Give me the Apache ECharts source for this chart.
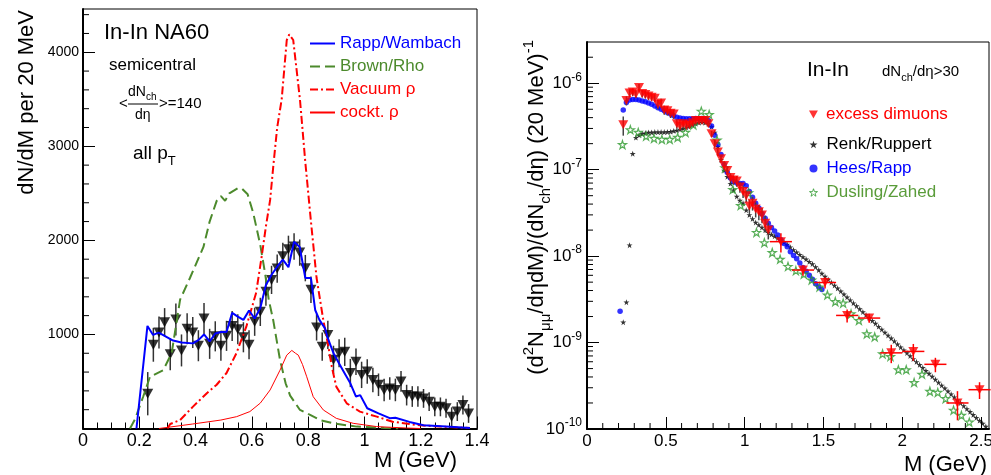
<!DOCTYPE html>
<html>
<head>
<meta charset="utf-8">
<script src="https://cdn.jsdelivr.net/npm/echarts@6/dist/echarts.min.js"></script>
<style>
html, body { margin: 0; padding: 0; background: #fff; }
#chart { width: 991px; height: 475px; }
</style>
</head>
<body>
<div id="chart"></div>
<script>
// ---------- left panel: In-In NA60, dN/dM per 20 MeV ----------
var na60Mass = [0.23,0.25,0.27,0.29,0.31,0.33,0.35,0.37,0.39,0.41,0.43,0.45,0.47,0.49,0.51,0.53,0.55,0.57,0.59,
  0.61,0.63,0.65,0.67,0.69,0.71,0.73,0.75,0.77,0.79,0.81,0.83,0.85,0.87,0.89,0.91,0.93,0.95,0.97,0.99,
  1.01,1.03,1.05,1.07,1.09,1.11,1.13,1.15,1.17,1.19,1.21,1.23,1.25,1.27,1.29,1.31,1.33,1.35,1.37];
var na60Yield = [370,890,1020,1130,790,1160,830,1060,1020,880,1170,900,980,880,985,1090,1055,970,890,
  1135,1240,1455,1580,1700,1830,1905,1935,1870,1705,1475,1075,870,995,730,800,815,590,710,570,
  605,515,465,410,425,410,500,355,340,340,320,285,230,230,215,125,180,250,160];
var na60Err = [230,180,170,150,170,170,170,165,165,165,165,160,160,160,160,160,160,160,155,
  150,150,150,150,150,145,145,140,140,140,140,140,150,150,150,150,150,150,140,140,
  130,130,120,120,120,120,110,110,110,110,100,100,100,100,100,100,100,100,100];

var rappWambach = [[0.19,0],[0.229,1090],[0.249,995],[0.269,1020],[0.29,985],[0.32,935],[0.35,915],[0.39,905],
  [0.41,940],[0.43,1000],[0.45,925],[0.47,1010],[0.49,1025],[0.51,1025],[0.53,1230],[0.55,1190],[0.57,1155],
  [0.59,1255],[0.61,1170],[0.63,1280],[0.65,1525],[0.67,1635],[0.69,1720],[0.71,1795],[0.73,1715],[0.75,1985],
  [0.77,1930],[0.79,1600],[0.81,1600],[0.825,1260],[0.84,1155],[0.86,1065],[0.87,960],[0.89,800],[0.91,690],
  [0.93,585],[0.95,480],[0.97,340],[0.985,355],[1.01,215],[1.05,160],[1.09,110],[1.11,115],[1.16,70],
  [1.21,35],[1.29,20],[1.375,5]];
var brownRho = [[0.167,0],[0.185,100],[0.214,340],[0.238,550],[0.285,620],[0.315,800],[0.345,1370],[0.38,1600],
  [0.428,1930],[0.45,2200],[0.475,2420],[0.49,2470],[0.505,2420],[0.52,2500],[0.55,2555],[0.565,2550],
  [0.585,2490],[0.605,2290],[0.63,1950],[0.647,1650],[0.66,1370],[0.676,1150],[0.70,730],[0.72,480],
  [0.736,350],[0.771,197],[0.807,144],[0.842,90],[0.889,55],[0.972,20],[1.07,5],[1.12,0]];
var vacuumRho = [[0.30,0],[0.31,48],[0.345,90],[0.39,230],[0.44,375],[0.475,465],[0.51,590],[0.545,800],
  [0.58,1080],[0.615,1440],[0.635,1830],[0.65,2150],[0.665,2430],[0.676,2785],[0.69,3200],[0.706,3500],
  [0.724,4130],[0.733,4190],[0.747,4130],[0.771,3495],[0.79,2830],[0.81,2200],[0.83,1600],[0.854,1150],
  [0.872,870],[0.884,657],[0.90,445],[0.937,268],[0.984,179],[1.044,126],[1.10,72],[1.185,37],[1.27,20],[1.375,5]];
var cocktailRho = [[0.27,0],[0.39,48],[0.49,90],[0.546,126],[0.593,180],[0.63,270],[0.665,410],[0.70,620],
  [0.724,780],[0.742,830],[0.755,800],[0.765,780],[0.78,680],[0.795,550],[0.818,338],[0.854,197],[0.90,108],
  [0.96,55],[1.044,20],[1.15,5],[1.2,0]];

var leftYMinorTicks = [200,400,600,800,1200,1400,1600,1800,2200,2400,2600,2800,3200,3400,3600,3800,4200,4400];

// ---------- right panel: In-In dNch/deta>30, normalized ----------
var excessMass = [0.23,0.25,0.27,0.29,0.31,0.33,0.35,0.37,0.39,0.41,0.43,0.45,0.47,0.49,0.51,0.53,0.55,0.57,
  0.59,0.61,0.63,0.65,0.67,0.69,0.71,0.73,0.75,0.77,0.79,0.81,0.83,0.85,0.87,0.89,0.91,0.93,0.95,0.97,0.99,
  1.01,1.03,1.05,1.07,1.09,1.11,1.13,1.15];
var excessVal = [3.3e-7,6.3e-7,7.7e-7,7.9e-7,7.5e-7,8.9e-7,7.6e-7,7.4e-7,7.1e-7,6.9e-7,6.7e-7,5.7e-7,5.9e-7,
  4.9e-7,4.8e-7,4.5e-7,4.4e-7,3.4e-7,3.2e-7,3.4e-7,3.25e-7,3.3e-7,3.5e-7,3.7e-7,3.7e-7,3.7e-7,3.7e-7,3.4e-7,
  2.6e-7,2.0e-7,1.6e-7,1.34e-7,1.12e-7,9.8e-8,8.1e-8,7.6e-8,7.4e-8,6.3e-8,5.6e-8,5.0e-8,3.8e-8,4.1e-8,
  3.5e-8,3.25e-8,3.0e-8,2.4e-8,2.0e-8];
var excessRelErr = [0.25,0.12,0.1,0.1,0.1,0.1,0.1,0.1,0.1,0.1,0.1,0.12,0.12,0.12,0.12,0.12,0.12,0.12,0.12,0.12,
  0.1,0.1,0.08,0.08,0.08,0.08,0.08,0.08,0.08,0.1,0.1,0.1,0.12,0.12,0.12,0.12,0.14,0.14,0.16,0.16,0.18,0.18,
  0.2,0.2,0.2,0.22,0.22];
var excessWideMass = [1.23,1.37,1.51,1.65,1.79,1.93,2.07,2.21,2.35,2.49];
var excessWideVal = [1.47e-8,6.9e-9,4.95e-9,2.06e-9,1.92e-9,7.6e-10,7.9e-10,5.6e-10,2.0e-10,2.85e-10];
var excessWideRelErr = [0.25,0.14,0.15,0.17,0.12,0.24,0.22,0.19,0.37,0.22];
var excessWideHalfBin = [0.07,0.07,0.07,0.07,0.07,0.07,0.07,0.07,0.07,0.07];

var renkRuppert = [[0.23,1.72e-9],[0.25,2.93e-9],[0.27,1.34e-8],[0.29,1.53e-7],[0.31,2.35e-7],[0.33,2.5e-7],
  [0.35,2.6e-7],[0.37,2.65e-7],[0.39,2.7e-7],[0.41,2.7e-7],[0.43,2.72e-7],[0.45,2.72e-7],[0.47,2.72e-7],
  [0.49,2.72e-7],[0.51,2.73e-7],[0.53,2.75e-7],[0.55,2.8e-7],[0.57,2.85e-7],[0.59,2.92e-7],[0.61,3.0e-7],
  [0.63,3.1e-7],[0.65,3.2e-7],[0.67,3.3e-7],[0.69,3.4e-7],[0.71,3.5e-7],[0.73,3.55e-7],[0.75,3.5e-7],
  [0.77,3.4e-7],[0.79,3.15e-7],[0.81,2.7e-7],[0.83,1.85e-7],[0.85,1.3e-7],[0.87,9.8e-8],[0.89,8.3e-8],
  [0.91,6.9e-8],[0.93,5.8e-8],[0.95,4.9e-8],[0.97,4.4e-8],[0.99,4.1e-8],[1.01,3.4e-8],[1.03,3.0e-8],
  [1.05,2.7e-8],[1.07,2.45e-8],[1.09,2.3e-8],[1.11,2.15e-8],[1.13,2.0e-8],[1.15,1.88e-8],[1.17,1.78e-8],
  [1.19,1.7e-8],[1.21,1.62e-8],[1.23,1.53e-8],[1.25,1.45e-8],[1.27,1.36e-8],[1.29,1.27e-8],[1.31,1.18e-8],
  [1.33,1.11e-8],[1.35,1.04e-8],[1.37,9.8e-9],[1.39,9.2e-9],[1.41,8.6e-9],[1.43,8.1e-9],[1.45,7.5e-9],
  [1.47,6.9e-9],[1.49,6.3e-9],[1.51,5.8e-9],[1.53,5.36e-9],[1.55,4.95e-9],[1.57,4.58e-9],[1.59,4.24e-9],
  [1.61,3.92e-9],[1.63,3.62e-9],[1.65,3.35e-9],[1.67,3.1e-9],[1.69,2.86e-9],[1.71,2.65e-9],[1.73,2.45e-9],
  [1.75,2.26e-9],[1.77,2.09e-9],[1.79,1.94e-9],[1.81,1.79e-9],[1.83,1.66e-9],[1.85,1.53e-9],[1.87,1.42e-9],
  [1.89,1.31e-9],[1.91,1.21e-9],[1.93,1.12e-9],[1.95,1.04e-9],[1.97,9.57e-10],[1.99,8.85e-10],[2.01,8.18e-10],
  [2.03,7.57e-10],[2.05,7.0e-10],[2.07,6.47e-10],[2.09,5.98e-10],[2.11,5.53e-10],[2.13,5.12e-10],[2.15,4.73e-10],
  [2.17,4.38e-10],[2.19,4.05e-10],[2.21,3.74e-10],[2.23,3.46e-10],[2.25,3.2e-10],[2.27,2.96e-10],[2.29,2.74e-10],
  [2.31,2.53e-10],[2.33,2.34e-10],[2.35,2.16e-10],[2.37,2.0e-10],[2.39,1.85e-10],[2.41,1.71e-10],[2.43,1.58e-10],
  [2.45,1.46e-10],[2.47,1.35e-10],[2.49,1.25e-10],[2.51,1.16e-10],[2.53,1.07e-10]];
var heesRapp = [[0.21,2.3e-9],[0.23,4.9e-7],[0.25,6.0e-7],[0.27,6.4e-7],[0.29,6.5e-7],[0.31,6.5e-7],[0.33,6.4e-7],
  [0.35,6.25e-7],[0.37,6.1e-7],[0.39,5.9e-7],[0.41,5.7e-7],[0.43,5.45e-7],[0.45,5.2e-7],[0.47,5.0e-7],
  [0.49,4.8e-7],[0.51,4.6e-7],[0.53,4.4e-7],[0.55,4.2e-7],[0.57,4.05e-7],[0.59,3.95e-7],[0.61,3.9e-7],
  [0.63,3.88e-7],[0.65,3.88e-7],[0.67,3.88e-7],[0.69,3.9e-7],[0.71,3.9e-7],[0.73,3.9e-7],[0.75,3.85e-7],
  [0.77,3.7e-7],[0.79,3.2e-7],[0.81,2.5e-7],[0.83,1.95e-7],[0.85,1.5e-7],[0.87,1.15e-7],[0.89,9.3e-8],
  [0.91,8.0e-8],[0.93,7.3e-8],[0.95,7.0e-8],[0.97,6.9e-8],[0.99,6.9e-8],[1.01,6.5e-8],[1.03,5.6e-8],
  [1.05,4.8e-8],[1.07,4.1e-8],[1.09,3.6e-8],[1.11,3.1e-8],[1.13,2.75e-8],[1.15,2.4e-8],[1.17,2.15e-8],
  [1.19,1.95e-8],[1.21,1.75e-8],[1.23,1.55e-8],[1.25,1.4e-8],[1.27,1.28e-8],[1.29,1.12e-8],[1.31,1.02e-8],
  [1.33,9.3e-9],[1.35,8.3e-9],[1.37,7.4e-9],[1.39,6.7e-9],[1.41,6.0e-9],[1.43,5.4e-9],[1.45,4.8e-9],
  [1.47,4.4e-9],[1.49,4.1e-9]];
var duslingZahed = [[0.225,1.95e-7],[0.275,2.9e-7],[0.325,2.7e-7],[0.375,2.45e-7],[0.425,2.3e-7],[0.475,2.24e-7],
  [0.525,2.24e-7],[0.575,2.37e-7],[0.625,2.7e-7],[0.675,3.3e-7],[0.725,4.75e-7],[0.775,4.35e-7],[0.825,2.2e-7],
  [0.875,1.05e-7],[0.925,5.9e-8],[0.975,3.85e-8],[1.025,5.4e-8],[1.075,1.88e-8],[1.125,1.43e-8],[1.175,1.1e-8],
  [1.225,9.2e-9],[1.275,7.6e-9],[1.325,6.8e-9],[1.375,6.2e-9],[1.425,5.3e-9],[1.475,4.4e-9],[1.525,3.55e-9],
  [1.575,2.98e-9],[1.625,2.86e-9],[1.675,2.15e-9],[1.725,1.8e-9],[1.775,1.26e-9],[1.825,1.16e-9],[1.875,7.4e-10],
  [1.925,6.9e-10],[1.975,4.85e-10],[2.025,4.85e-10],[2.075,3.45e-10],[2.125,4.3e-10],[2.175,2.73e-10],
  [2.225,2.65e-10],[2.275,2.25e-10],[2.325,1.65e-10],[2.375,1.44e-10],[2.425,1.2e-10]];

var rightXMinorTicks = [0.1,0.2,0.3,0.4,0.6,0.7,0.8,0.9,1.1,1.2,1.3,1.4,1.6,1.7,1.8,1.9,2.1,2.2,2.3,2.4];
var rightYMinorTicks = [2e-10,3e-10,4e-10,5e-10,6e-10,7e-10,8e-10,9e-10,2e-9,3e-9,4e-9,5e-9,6e-9,7e-9,8e-9,9e-9,
  2e-8,3e-8,4e-8,5e-8,6e-8,7e-8,8e-8,9e-8,2e-7,3e-7,4e-7,5e-7,6e-7,7e-7,8e-7,9e-7,2e-6];

var FONT = '"Liberation Sans", Arial, Helvetica, sans-serif';
var RED = '#ff0000', BLUE = '#0000ff', OLIVE = '#4c8a2c', GREEN = '#2e9a2e', GREEN_TXT = '#5a9c3a';
var STAR = 'path://M50,0 L61.8,35.1 L98.9,35.1 L69,56.9 L80.3,91.9 L50,70.2 L19.7,91.9 L31,56.9 L1.1,35.1 L38.2,35.1 Z';
var TRI_DOWN = 'path://M0,0 L10,0 L5,9 Z';

var chart = echarts.init(document.getElementById('chart'));

// error bar renderer: data item = [x, lo, hi, halfWidth, centre]
function errorBars(colorNarrow, colorWide, width) {
  return function (params, api) {
    var x = api.value(0), lo = api.value(1), hi = api.value(2), hw = api.value(3) || 0;
    var p1 = api.coord([x, lo]), p2 = api.coord([x, hi]);
    var col = hw > 0 ? colorWide : colorNarrow;
    var kids = [{ type: 'line', shape: { x1: p1[0], y1: p1[1], x2: p2[0], y2: p2[1] },
      style: { stroke: col, lineWidth: width } }];
    if (hw > 0) {
      var pl = api.coord([x - hw, api.value(4)]), pr = api.coord([x + hw, api.value(4)]);
      kids.push({ type: 'line', shape: { x1: pl[0], y1: pl[1], x2: pr[0], y2: pr[1] },
        style: { stroke: col, lineWidth: width } });
    }
    return { type: 'group', children: kids };
  };
}
// minor tick renderers
function yTick(len) {
  return function (params, api) {
    var p = api.coord([api.value(0), api.value(1)]);
    return { type: 'line', shape: { x1: p[0], y1: p[1], x2: p[0] + len, y2: p[1] }, style: { stroke: '#000', lineWidth: 1 } };
  };
}
function xTick(len) {
  return function (params, api) {
    var p = api.coord([api.value(0), api.value(1)]);
    return { type: 'line', shape: { x1: p[0], y1: p[1], x2: p[0], y2: p[1] - len }, style: { stroke: '#000', lineWidth: 1 } };
  };
}

var na60Points = na60Mass.map(function (m, i) { return [m, na60Yield[i]]; });
var na60Bars = na60Mass.map(function (m, i) { return [m, na60Yield[i] - na60Err[i], na60Yield[i] + na60Err[i], 0, na60Yield[i]]; });
var excessPoints = excessMass.map(function (m, i) { return [m, excessVal[i]]; })
  .concat(excessWideMass.map(function (m, i) { return [m, excessWideVal[i]]; }));
var excessBars = excessMass.map(function (m, i) {
  return [m, excessVal[i] * (1 - excessRelErr[i]), excessVal[i] * (1 + excessRelErr[i]), 0, excessVal[i]];
}).concat(excessWideMass.map(function (m, i) {
  return [m, excessWideVal[i] * (1 - excessWideRelErr[i]), excessWideVal[i] * (1 + excessWideRelErr[i]), excessWideHalfBin[i], excessWideVal[i]];
}));

var axisCommon = {
  axisLine: { lineStyle: { color: '#000', width: 2 } },
  axisTick: { inside: true, length: 12, lineStyle: { color: '#000', width: 1 } },
  splitLine: { show: false }
};

function txt(x, y, text, size, color, extra) {
  var el = { type: 'text', x: x, y: y, silent: true,
    style: { text: text, fontSize: size, fontFamily: FONT, fill: color || '#000',
      align: 'left', textAlign: 'left', verticalAlign: 'middle', textVerticalAlign: 'middle' } };
  if (extra) {
    for (var k in extra) {
      if (k === 'style') { for (var s in extra.style) el.style[s] = extra.style[s]; }
      else el[k] = extra[k];
    }
  }
  return el;
}
function subRich(size, color) {
  return { sb: { fontSize: size, fontFamily: FONT, fill: color || '#000', verticalAlign: 'bottom' },
           sp: { fontSize: size, fontFamily: FONT, fill: color || '#000', verticalAlign: 'top' } };
}

var option = {
  animation: false,
  backgroundColor: '#fff',
  grid: [
    { left: 83, top: 9, width: 394, height: 419.5, show: true, borderColor: '#000', borderWidth: 1,
      backgroundColor: 'transparent', containLabel: false, outerBoundsMode: 'none' },
    { left: 587, top: 42, width: 402, height: 387, show: true, borderColor: '#000', borderWidth: 1,
      backgroundColor: 'transparent', containLabel: false, outerBoundsMode: 'none' }
  ],
  xAxis: [
    Object.assign({}, axisCommon, {
      gridIndex: 0, type: 'value', min: 0, max: 1.4, interval: 0.2,
      minorTick: { show: true, splitNumber: 4, length: 6, lineStyle: { color: '#000', width: 1 } },
      axisLabel: { fontSize: 18, fontFamily: FONT, color: '#000', margin: 4 }
    }),
    Object.assign({}, axisCommon, {
      gridIndex: 1, type: 'value', min: 0, max: 2.55, interval: 0.5,
      axisLabel: { fontSize: 17, fontFamily: FONT, color: '#000', margin: 4, showMaxLabel: false,
        formatter: function (v) { return v > 2.5 ? '' : String(v); } }
    })
  ],
  yAxis: [
    Object.assign({}, axisCommon, {
      gridIndex: 0, type: 'value', min: 0, max: 4460, interval: 1000,
      axisLabel: { fontSize: 14, fontFamily: FONT, color: '#000', margin: 4, showMaxLabel: false,
        formatter: function (v) { return (v === 0 || v > 4000) ? '' : String(v); } }
    }),
    Object.assign({}, axisCommon, {
      gridIndex: 1, type: 'log', logBase: 10, min: 1e-10, max: 3e-6,
      axisLabel: { margin: 5, showMaxLabel: false,
        formatter: function (v) {
          var e = Math.round(Math.log(v) / Math.LN10);
          if (e > -6) return '';
          return '{b|10}{s|' + e + '}';
        },
        rich: {
          b: { fontSize: 17, fontFamily: FONT, color: '#000', lineHeight: 24 },
          s: { fontSize: 12, fontFamily: FONT, color: '#000', verticalAlign: 'top' }
        } }
    })
  ],
  legend: [
    { left: 309, top: 35, orient: 'vertical', padding: 0, itemWidth: 25, itemHeight: 12, itemGap: 6,
      selectedMode: false, itemStyle: { opacity: 0 },
      textStyle: { fontSize: 17, fontFamily: FONT, lineHeight: 17 },
      data: [
        { name: 'Rapp/Wambach', textStyle: { color: BLUE } },
        { name: 'Brown/Rho', textStyle: { color: OLIVE } },
        { name: 'Vacuum ρ', textStyle: { color: RED } },
        { name: 'cockt. ρ', textStyle: { color: RED } }
      ] },
    { left: 809, top: 106, orient: 'vertical', padding: 0, itemWidth: 9, itemHeight: 8, itemGap: 6,
      selectedMode: false,
      textStyle: { fontSize: 17, fontFamily: FONT, lineHeight: 17, padding: [0, 0, 0, 3] },
      data: [{ name: 'excess dimuons', icon: TRI_DOWN, itemStyle: { color: RED }, textStyle: { color: RED } }] },
    { left: 809, top: 136, orient: 'vertical', padding: 0, itemWidth: 8, itemHeight: 8, itemGap: 7,
      selectedMode: false,
      textStyle: { fontSize: 17, fontFamily: FONT, lineHeight: 17, padding: [0, 0, 0, 4] },
      data: [
        { name: 'Renk/Ruppert', icon: STAR, itemStyle: { color: '#000' }, textStyle: { color: '#000' } },
        { name: 'Hees/Rapp', icon: 'circle', itemStyle: { color: BLUE }, textStyle: { color: BLUE } },
        { name: 'Dusling/Zahed', icon: STAR,
          itemStyle: { color: '#fff', borderColor: GREEN, borderWidth: 1 }, textStyle: { color: GREEN_TXT } }
      ] }
  ],
  series: [
    // ----- left panel -----
    { type: 'custom', name: 'na60 errors', xAxisIndex: 0, yAxisIndex: 0, silent: true, z: 2,
      renderItem: errorBars('#333', '#333', 1.5), data: na60Bars },
    { type: 'scatter', name: 'NA60 data', xAxisIndex: 0, yAxisIndex: 0, z: 3,
      symbol: 'triangle', symbolRotate: 180, symbolSize: [11, 10],
      itemStyle: { color: '#000' }, data: na60Points },
    { type: 'line', name: 'Brown/Rho', xAxisIndex: 0, yAxisIndex: 0, z: 4, symbol: 'none', showSymbol: false,
      lineStyle: { color: OLIVE, width: 2, type: [10, 5] }, itemStyle: { color: OLIVE }, data: brownRho },
    { type: 'line', name: 'Vacuum ρ', xAxisIndex: 0, yAxisIndex: 0, z: 4, symbol: 'none', showSymbol: false,
      lineStyle: { color: RED, width: 2, type: [8, 3, 2, 3] }, itemStyle: { color: RED }, data: vacuumRho },
    { type: 'line', name: 'cockt. ρ', xAxisIndex: 0, yAxisIndex: 0, z: 4, symbol: 'none', showSymbol: false,
      lineStyle: { color: RED, width: 1 }, itemStyle: { color: RED }, data: cocktailRho },
    { type: 'line', name: 'Rapp/Wambach', xAxisIndex: 0, yAxisIndex: 0, z: 5, symbol: 'none', showSymbol: false,
      lineStyle: { color: BLUE, width: 2 }, itemStyle: { color: BLUE }, data: rappWambach },
    { type: 'custom', name: 'left minor', xAxisIndex: 0, yAxisIndex: 0, silent: true, z: 6,
      renderItem: yTick(6), data: leftYMinorTicks.map(function (v) { return [0, v]; }) },

    // ----- right panel -----
    { type: 'scatter', name: 'Renk/Ruppert', xAxisIndex: 1, yAxisIndex: 1, z: 3,
      symbol: STAR, symbolSize: 6, itemStyle: { color: '#000' }, data: renkRuppert },
    { type: 'scatter', name: 'Hees/Rapp', xAxisIndex: 1, yAxisIndex: 1, z: 3,
      symbol: 'circle', symbolSize: 5.5, itemStyle: { color: BLUE }, data: heesRapp },
    { type: 'scatter', name: 'Dusling/Zahed', xAxisIndex: 1, yAxisIndex: 1, z: 4,
      symbol: STAR, symbolSize: 8,
      itemStyle: { color: 'rgba(255,255,255,0)', borderColor: GREEN, borderWidth: 1.2 }, data: duslingZahed },
    { type: 'custom', name: 'excess errors', xAxisIndex: 1, yAxisIndex: 1, silent: true, z: 5,
      renderItem: errorBars('#444', RED, 1.5), data: excessBars },
    { type: 'scatter', name: 'excess dimuons', xAxisIndex: 1, yAxisIndex: 1, z: 6,
      symbol: 'triangle', symbolRotate: 180, symbolSize: [10, 9], itemStyle: { color: RED }, data: excessPoints },
    { type: 'custom', name: 'right y minor', xAxisIndex: 1, yAxisIndex: 1, silent: true, z: 7,
      renderItem: yTick(6), data: rightYMinorTicks.map(function (v) { return [0, v]; }) },
    { type: 'custom', name: 'right x minor', xAxisIndex: 1, yAxisIndex: 1, silent: true, z: 7,
      renderItem: xTick(6), data: rightXMinorTicks.map(function (v) { return [v, 1e-10]; }) }
  ],
  graphic: [
    // left panel texts
    txt(104, 33, 'In-In NA60', 22),
    txt(109, 65, 'semicentral', 17),
    txt(119, 104, '<', 15),
    txt(128, 92, 'dN{sb|ch}', 14, '#000', { style: { lineHeight: 20, rich: subRich(10) } }),
    { type: 'line', silent: true, shape: { x1: 128, y1: 104, x2: 158, y2: 104 }, style: { stroke: '#000', lineWidth: 1 } },
    txt(135, 115, 'dη', 14),
    txt(159, 104, '>=140', 15),
    txt(133, 154, 'all p{sb|T}', 19, '#000', { style: { lineHeight: 28, rich: subRich(13) } }),
    txt(27, 10, 'dN/dM per 20 MeV', 22, '#000', { rotation: Math.PI / 2, style: { align: 'right', textAlign: 'right' } }),
    txt(457, 461, 'M (GeV)', 22, '#000', { style: { align: 'right', textAlign: 'right' } }),
    // right panel texts
    txt(807, 70, 'In-In', 21),
    txt(882, 72, 'dN{sb|ch}/dη>30', 15, '#000', { style: { lineHeight: 22, rich: subRich(11) } }),
    txt(537, 40, '(d{sp|2}N{sb|μμ}/dηdM)/(dN{sb|ch}/dη) (20 MeV){sp|-1}', 22, '#000',
      { rotation: Math.PI / 2, style: { align: 'right', textAlign: 'right', lineHeight: 32, rich: subRich(15) } }),
    txt(987, 465, 'M (GeV)', 22, '#000', { style: { align: 'right', textAlign: 'right' } })
  ]
};

chart.setOption(option);
</script>
</body>
</html>
